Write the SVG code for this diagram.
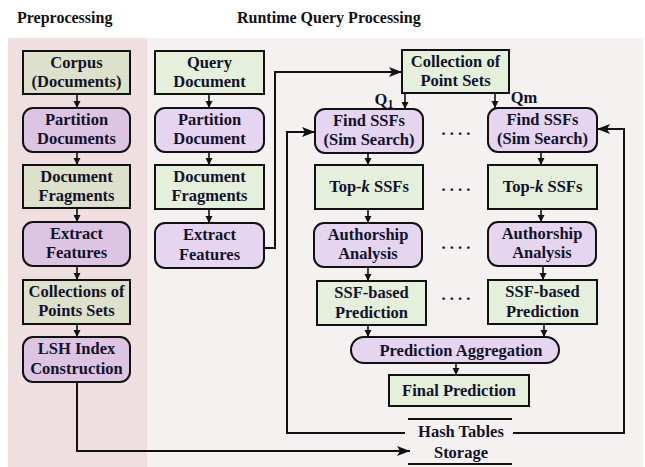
<svg xmlns="http://www.w3.org/2000/svg" width="645" height="467" viewBox="0 0 645 467">
<style>
  .hdr{font-family:"Liberation Serif","Times New Roman",serif;font-weight:bold;font-size:16px;fill:#111;}
  .t{font-family:"Liberation Serif","Times New Roman",serif;font-weight:bold;font-size:16.5px;fill:#12122a;text-anchor:middle;}
  .gL{fill:#dde0cb;stroke:#111;stroke-width:2;}
  .pL{fill:#dcc4e2;stroke:#111;stroke-width:2;}
  .g{fill:#e4efdc;stroke:#111;stroke-width:2;}
  .p{fill:#e6d5f1;stroke:#111;stroke-width:2;}
  .c{fill:none;stroke:#111;stroke-width:2;}
  .s{fill:none;stroke:#111;stroke-width:1.6;}
</style>
<defs>
  <marker id="big" markerUnits="userSpaceOnUse" markerWidth="14" markerHeight="12" refX="13" refY="6" orient="auto">
    <path d="M0,1 L13,6 L0,11 L3,6 Z" fill="#111"/>
  </marker>
  <marker id="sm" markerUnits="userSpaceOnUse" markerWidth="8" markerHeight="8" refX="7" refY="4" orient="auto">
    <path d="M0,0.5 L7,4 L0,7.5 Z" fill="#111"/>
  </marker>
</defs>

<rect x="8" y="38" width="139" height="429" fill="#efdfe0"/>
<rect x="147" y="38" width="496" height="429" fill="#f6f1f1"/>

<text class="hdr" x="17" y="23">Preprocessing</text>
<text class="hdr" x="237" y="23">Runtime Query Processing</text>

<!-- Preprocessing column -->
<g id="corpus"><rect class="gL" x="23" y="51" width="107" height="43"/><text class="t" x="76.5" y="68">Corpus</text><text class="t" x="76.5" y="87">(Documents)</text></g>
<g id="partition-docs"><rect class="pL" x="23" y="108" width="107" height="44" rx="10"/><text class="t" x="76.5" y="125">Partition</text><text class="t" x="76.5" y="144">Documents</text></g>
<g id="doc-frag-pre"><rect class="gL" x="23" y="165" width="107" height="43"/><text class="t" x="76.5" y="182">Document</text><text class="t" x="76.5" y="201">Fragments</text></g>
<g id="extract-pre"><rect class="pL" x="23" y="222" width="107" height="44" rx="10"/><text class="t" x="76.5" y="239">Extract</text><text class="t" x="76.5" y="258">Features</text></g>
<g id="collections-pre"><rect class="gL" x="23" y="280" width="107" height="44"/><text class="t" x="76.5" y="297">Collections of</text><text class="t" x="76.5" y="316">Points Sets</text></g>
<g id="lsh"><rect class="pL" x="23" y="337" width="107" height="45" rx="10"/><text class="t" x="76.5" y="354">LSH Index</text><text class="t" x="76.5" y="374">Construction</text></g>

<!-- Query column -->
<g id="query-doc"><rect class="g" x="155" y="51" width="109" height="43"/><text class="t" x="209.5" y="68">Query</text><text class="t" x="209.5" y="87">Document</text></g>
<g id="partition-doc"><rect class="p" x="155" y="108" width="109" height="44" rx="10"/><text class="t" x="209.5" y="125">Partition</text><text class="t" x="209.5" y="144">Document</text></g>
<g id="doc-frag-q"><rect class="g" x="155" y="165" width="109" height="44"/><text class="t" x="209.5" y="182">Document</text><text class="t" x="209.5" y="201">Fragments</text></g>
<g id="extract-q"><rect class="p" x="155" y="223" width="109" height="45" rx="10"/><text class="t" x="209.5" y="240">Extract</text><text class="t" x="209.5" y="260">Features</text></g>

<g id="collection-q"><rect class="g" x="402" y="50" width="107" height="43"/><text class="t" x="455.5" y="67">Collection of</text><text class="t" x="455.5" y="86">Point Sets</text></g>

<g id="find1"><rect class="p" x="315" y="109" width="108" height="44" rx="10"/><text class="t" x="369" y="126">Find SSFs</text><text class="t" x="369" y="145">(Sim Search)</text></g>
<g id="findm"><rect class="p" x="488" y="108" width="109" height="44" rx="10"/><text class="t" x="542.5" y="125">Find SSFs</text><text class="t" x="542.5" y="144">(Sim Search)</text></g>
<g id="topk1"><rect class="g" x="315" y="165" width="108" height="44"/><text class="t" x="369" y="192">Top-<tspan font-style="italic">k</tspan> SSFs</text></g>
<g id="topkm"><rect class="g" x="488" y="165" width="109" height="44"/><text class="t" x="542.5" y="192">Top-<tspan font-style="italic">k</tspan> SSFs</text></g>
<g id="auth1"><rect class="p" x="314" y="223" width="108" height="44" rx="10"/><text class="t" x="368" y="240">Authorship</text><text class="t" x="368" y="259">Analysis</text></g>
<g id="authm"><rect class="p" x="488" y="222" width="108" height="44" rx="10"/><text class="t" x="542" y="239">Authorship</text><text class="t" x="542" y="258">Analysis</text></g>
<g id="ssf1"><rect class="g" x="317" y="281" width="109" height="44"/><text class="t" x="371.5" y="298">SSF-based</text><text class="t" x="371.5" y="318">Prediction</text></g>
<g id="ssfm"><rect class="g" x="488" y="280" width="109" height="44"/><text class="t" x="542.5" y="297">SSF-based</text><text class="t" x="542.5" y="317">Prediction</text></g>
<g id="aggregation"><rect class="p" x="351" y="337" width="208" height="26" rx="13"/><text class="t" x="461" y="356">Prediction Aggregation</text></g>
<g id="final"><rect class="g" x="389" y="375" width="140" height="31"/><text class="t" x="459" y="396">Final Prediction</text></g>
<g id="hash-storage"><line class="c" x1="408" y1="419" x2="512" y2="419"/><line class="c" x1="408" y1="464" x2="512" y2="464"/><text class="t" x="461" y="437">Hash Tables</text><text class="t" x="461" y="458">Storage</text></g>

<g id="labels">
  <text class="t" x="384" y="105">Q<tspan font-size="12" dy="3">1</tspan></text>
  <text class="t" x="524" y="103">Qm</text>
  <text class="t" x="456" y="135">. . . .</text>
  <text class="t" x="456" y="191">. . . .</text>
  <text class="t" x="456" y="249">. . . .</text>
  <text class="t" x="456" y="300">. . . .</text>
</g>

<g id="connectors">
  <line class="s" x1="77" y1="94" x2="77" y2="108" marker-end="url(#sm)"/>
  <line class="s" x1="77" y1="152" x2="77" y2="165" marker-end="url(#sm)"/>
  <line class="s" x1="77" y1="208" x2="77" y2="222" marker-end="url(#sm)"/>
  <line class="s" x1="77" y1="266" x2="77" y2="280" marker-end="url(#sm)"/>
  <line class="s" x1="77" y1="324" x2="77" y2="337" marker-end="url(#sm)"/>
  <polyline class="c" points="77,382 77,451 410,451" marker-end="url(#big)"/>

  <line class="s" x1="209" y1="94" x2="209" y2="108" marker-end="url(#sm)"/>
  <line class="s" x1="209" y1="152" x2="209" y2="165" marker-end="url(#sm)"/>
  <line class="s" x1="209" y1="209" x2="209" y2="223" marker-end="url(#sm)"/>
  <polyline class="c" points="264,248 275,248 275,72 402,72" marker-end="url(#big)"/>

  <line class="s" x1="405" y1="93" x2="405" y2="109" marker-end="url(#sm)"/>
  <line class="s" x1="495" y1="93" x2="495" y2="108" marker-end="url(#sm)"/>

  <line class="s" x1="368" y1="153" x2="368" y2="165" marker-end="url(#sm)"/>
  <line class="s" x1="368" y1="209" x2="368" y2="223" marker-end="url(#sm)"/>
  <line class="s" x1="368" y1="267" x2="368" y2="281" marker-end="url(#sm)"/>
  <line class="s" x1="368" y1="325" x2="368" y2="337" marker-end="url(#sm)"/>
  <line class="s" x1="541" y1="152" x2="541" y2="165" marker-end="url(#sm)"/>
  <line class="s" x1="541" y1="209" x2="541" y2="222" marker-end="url(#sm)"/>
  <line class="s" x1="543" y1="266" x2="543" y2="280" marker-end="url(#sm)"/>
  <line class="s" x1="544" y1="324" x2="544" y2="337" marker-end="url(#sm)"/>
  <line class="s" x1="456" y1="363" x2="456" y2="375" marker-end="url(#sm)"/>

  <polyline class="c" points="405,433 287,433 287,132 315,132" marker-end="url(#big)"/>
  <polyline class="c" points="513,433 624,433 624,129 597,129" marker-end="url(#big)"/>
</g>
</svg>
